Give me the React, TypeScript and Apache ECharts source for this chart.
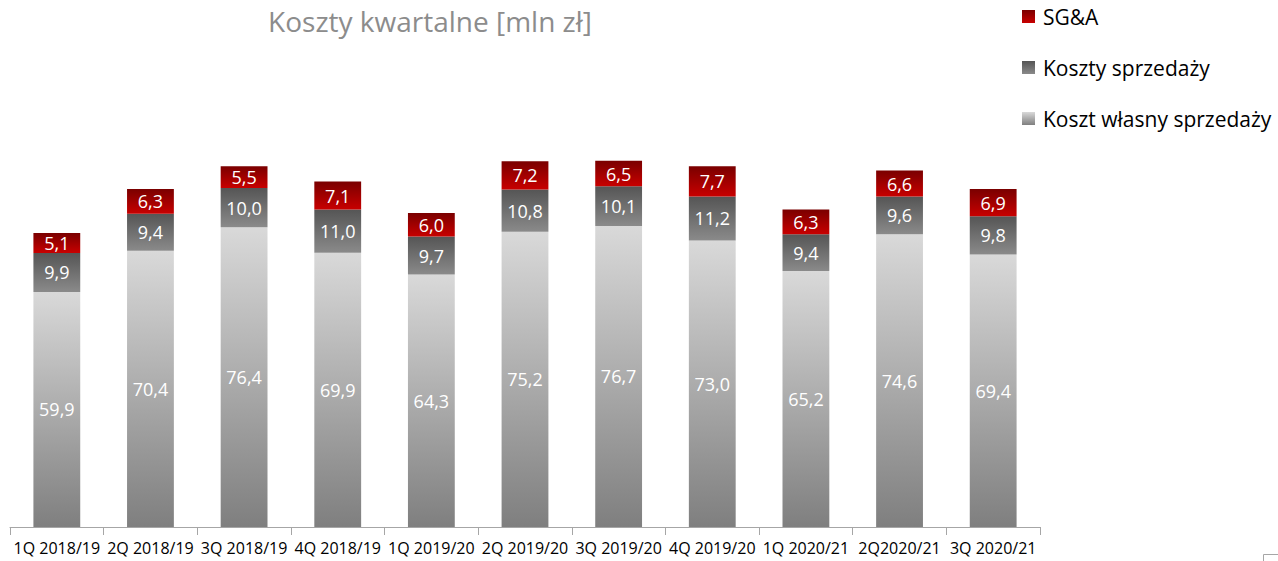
import React, { useEffect, useRef } from "react";
import * as echarts from "echarts";

const categories = [
  "1Q 2018/19", "2Q 2018/19", "3Q 2018/19", "4Q 2018/19", "1Q 2019/20",
  "2Q 2019/20", "3Q 2019/20", "4Q 2019/20", "1Q 2020/21", "2Q2020/21", "3Q 2020/21",
];
const kosztWlasny = [59.9, 70.4, 76.4, 69.9, 64.3, 75.2, 76.7, 73.0, 65.2, 74.6, 69.4];
const kosztySprzedazy = [9.9, 9.4, 10.0, 11.0, 9.7, 10.8, 10.1, 11.2, 9.4, 9.6, 9.8];
const sga = [5.1, 6.3, 5.5, 7.1, 6.0, 7.2, 6.5, 7.7, 6.3, 6.6, 6.9];

const FONT = "'Open Sans', sans-serif";

const grad = (top: string, bottom: string) =>
  new echarts.graphic.LinearGradient(0, 0, 0, 1, [
    { offset: 0, color: top },
    { offset: 1, color: bottom },
  ]);

const fmt = (p: any) => Number(p.value).toFixed(1).replace(".", ",");

export default function App() {
  const ref = useRef<HTMLDivElement>(null);
  useEffect(() => {
    document.body.style.margin = "0";
    const chart = echarts.init(ref.current!, null, { renderer: "svg" });
    const label = {
      show: true,
      position: "inside" as const,
      color: "#ffffff",
      fontSize: 18,
      fontFamily: FONT,
      formatter: fmt,
    };
    chart.setOption({
      animation: false,
      title: {
        text: "Koszty kwartalne [mln zł]",
        left: 425,
        top: 2,
        textAlign: "center",
        textStyle: { color: "#8c8c8c", fontSize: 28, fontWeight: "normal", fontFamily: FONT },
      },
      legend: {
        orient: "vertical",
        left: 1017,
        top: 1,
        itemWidth: 13,
        itemHeight: 13,
        itemGap: 30,
        icon: "rect",
        data: ["SG&A", "Koszty sprzedaży", "Koszt własny sprzedaży"],
        textStyle: { color: "#000000", fontSize: 21, fontFamily: FONT, padding: [0, 0, 0, 3] },
      },
      grid: { left: 10, right: 238, top: 134.5, bottom: 34, containLabel: false },
      xAxis: {
        type: "category",
        data: categories,
        axisLine: { lineStyle: { color: "#a6a6a6", width: 1 } },
        axisTick: { show: true, length: 8, lineStyle: { color: "#a6a6a6" } },
        axisLabel: { color: "#000000", fontSize: 16, fontFamily: FONT, margin: 13, interval: 0 },
      },
      yAxis: {
        type: "value",
        min: 0,
        max: 100,
        show: false,
        splitLine: { show: false },
      },
      series: [
        {
          name: "Koszt własny sprzedaży",
          type: "bar",
          stack: "a",
          barWidth: "50%",
          data: kosztWlasny,
          itemStyle: { color: grad("#d9d9d9", "#7f7f7f") },
          label,
        },
        {
          name: "Koszty sprzedaży",
          type: "bar",
          stack: "a",
          data: kosztySprzedazy,
          itemStyle: { color: grad("#555555", "#8a8a8a") },
          label,
        },
        {
          name: "SG&A",
          type: "bar",
          stack: "a",
          data: sga,
          itemStyle: { color: grad("#7a0000", "#c80000") },
          label,
        },
      ],
      graphic: [
        {
          type: "polyline",
          shape: { points: [[1263.5, 561], [1263.5, 554.5], [1278, 554.5]] },
          style: { stroke: "#a6a6a6", lineWidth: 1, fill: "none" },
        },
      ],
    });
    return () => chart.dispose();
  }, []);
  return <div ref={ref} style={{ width: 1278, height: 561 }} />;
}
